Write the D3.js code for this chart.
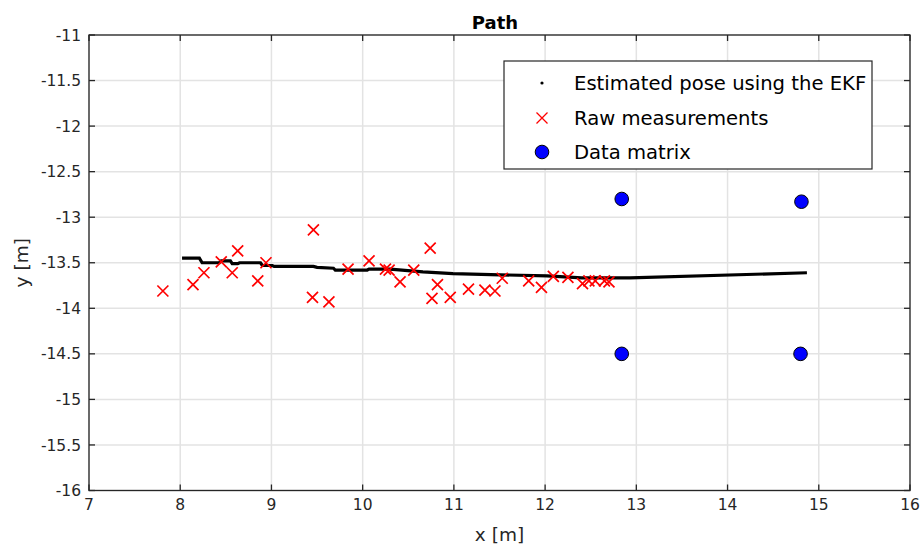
<!DOCTYPE html>
<html><head><meta charset="utf-8">
<script src="https://cdn.jsdelivr.net/npm/d3@7"></script>
<style>body{margin:0;background:#fff}svg{display:block}text{font-family:"DejaVu Sans",sans-serif}</style>
</head><body>
<script>
const xTicks = [7,8,9,10,11,12,13,14,15,16];
const yTicks = [-11,-11.5,-12,-12.5,-13,-13.5,-14,-14.5,-15,-15.5,-16];

const pathX = [8.02,8.21,8.24,8.43,8.45,8.55,8.57,8.63,8.65,8.88,8.90,9.01,9.03,9.46,9.50,9.68,9.70,10.05,10.07,10.30,10.66,10.99,12.02,12.40,12.93,14.87];
const pathY = [-13.45,-13.45,-13.50,-13.50,-13.48,-13.48,-13.51,-13.51,-13.50,-13.50,-13.53,-13.53,-13.54,-13.54,-13.55,-13.56,-13.58,-13.58,-13.57,-13.57,-13.60,-13.62,-13.645,-13.665,-13.665,-13.61];

const measX = [7.81,8.14,8.26,8.45,8.57,8.63,8.85,8.94,9.46,9.45,9.63,9.84,10.07,10.25,10.29,10.41,10.56,10.74,10.76,10.82,10.96,11.16,11.34,11.45,11.53,11.82,11.96,12.09,12.25,12.41,12.48,12.55,12.65,12.70];
const measY = [-13.81,-13.74,-13.61,-13.49,-13.61,-13.37,-13.70,-13.50,-13.14,-13.88,-13.93,-13.57,-13.48,-13.57,-13.58,-13.71,-13.58,-13.34,-13.89,-13.74,-13.88,-13.79,-13.80,-13.81,-13.67,-13.70,-13.77,-13.65,-13.66,-13.73,-13.70,-13.70,-13.70,-13.71];

const dmX = [12.84,14.81,12.84,14.80];
const dmY = [-12.80,-12.83,-14.50,-14.50];

const legendLabels = ["Estimated pose using the EKF","Raw measurements","Data matrix"];

const W=923,H=547;
const L=89,R=910,T=35,B=490.5;
const svg=d3.select("body").append("svg").attr("width",W).attr("height",H);
const x=d3.scaleLinear().domain([7,16]).range([L,R]);
const y=d3.scaleLinear().domain([-16,-11]).range([B,T]);
const axisCol="#262626";

// grid
const g=svg.append("g");
g.selectAll(".gx").data(xTicks).enter().append("line")
 .attr("x1",d=>x(d)).attr("x2",d=>x(d)).attr("y1",T).attr("y2",B)
 .attr("stroke","#e3e3e3").attr("stroke-width",1.5);
g.selectAll(".gy").data(yTicks).enter().append("line")
 .attr("y1",d=>y(d)).attr("y2",d=>y(d)).attr("x1",L).attr("x2",R)
 .attr("stroke","#e3e3e3").attr("stroke-width",1.5);

// path
const line=d3.line().x(d=>x(d[0])).y(d=>y(d[1]));
svg.append("path").datum(pathX.map((v,i)=>[v,pathY[i]]))
 .attr("d",line).attr("fill","none").attr("stroke","#000").attr("stroke-width",3.2);

// measurements
const cs=5.5;
const mg=svg.append("g").selectAll("g").data(measX.map((v,i)=>[v,measY[i]])).enter().append("g")
 .attr("transform",d=>`translate(${x(d[0])},${y(d[1])})`);
mg.append("path").attr("d",`M${-cs},${-cs}L${cs},${cs}M${-cs},${cs}L${cs},${-cs}`)
 .attr("stroke","#ff0000").attr("stroke-width",1.7).attr("fill","none");

// data matrix
svg.append("g").selectAll("circle").data(dmX.map((v,i)=>[v,dmY[i]])).enter().append("circle")
 .attr("cx",d=>x(d[0])).attr("cy",d=>y(d[1])).attr("r",6.8)
 .attr("fill","#0000ff").attr("stroke","#000").attr("stroke-width",1);

// axes
const ax=svg.append("g");
const tl=6;
ax.append("rect").attr("x",L).attr("y",T).attr("width",R-L).attr("height",B-T)
 .attr("fill","none").attr("stroke",axisCol).attr("stroke-width",1.3);
xTicks.forEach(t=>{
 ax.append("line").attr("x1",x(t)).attr("x2",x(t)).attr("y1",B).attr("y2",B-tl).attr("stroke",axisCol).attr("stroke-width",1.3);
 ax.append("line").attr("x1",x(t)).attr("x2",x(t)).attr("y1",T).attr("y2",T+tl).attr("stroke",axisCol).attr("stroke-width",1.3);
 ax.append("text").attr("x",x(t)).attr("y",B+19).attr("text-anchor","middle").attr("font-size",15.5).attr("fill",axisCol).text(t);
});
yTicks.forEach(t=>{
 ax.append("line").attr("y1",y(t)).attr("y2",y(t)).attr("x1",L).attr("x2",L+tl).attr("stroke",axisCol).attr("stroke-width",1.3);
 ax.append("line").attr("y1",y(t)).attr("y2",y(t)).attr("x1",R).attr("x2",R-tl).attr("stroke",axisCol).attr("stroke-width",1.3);
 ax.append("text").attr("x",L-8).attr("y",y(t)).attr("dy","0.36em").attr("text-anchor","end").attr("font-size",15.5).attr("fill",axisCol).text(t);
});
svg.append("text").attr("x",495).attr("y",29).attr("text-anchor","middle").attr("font-size",18).attr("font-weight","bold").attr("fill","#000").text("Path");
svg.append("text").attr("x",(L+R)/2).attr("y",541).attr("text-anchor","middle").attr("font-size",18.5).attr("fill",axisCol).text("x [m]");
svg.append("text").attr("transform",`translate(28,${(T+B)/2}) rotate(-90)`).attr("text-anchor","middle").attr("font-size",18.5).attr("fill",axisCol).text("y [m]");

// legend
const lg=svg.append("g");
lg.append("rect").attr("x",504).attr("y",61).attr("width",368).attr("height",108).attr("fill","#fff").attr("stroke",axisCol).attr("stroke-width",1.2);
const rows=[83,118,152];
legendLabels.forEach((s,i)=>{
 lg.append("text").attr("x",574).attr("y",rows[i]).attr("dy","0.36em").attr("font-size",19.6).attr("fill","#000").text(s);
});
lg.append("circle").attr("cx",542).attr("cy",rows[0]).attr("r",1.6).attr("fill","#000");
lg.append("path").attr("transform",`translate(542,${rows[1]})`).attr("d",`M${-cs},${-cs}L${cs},${cs}M${-cs},${cs}L${cs},${-cs}`).attr("stroke","#ff0000").attr("stroke-width",1.3);
lg.append("circle").attr("cx",542).attr("cy",rows[2]).attr("r",6.8).attr("fill","#0000ff").attr("stroke","#000").attr("stroke-width",1);
</script>
</body></html>
